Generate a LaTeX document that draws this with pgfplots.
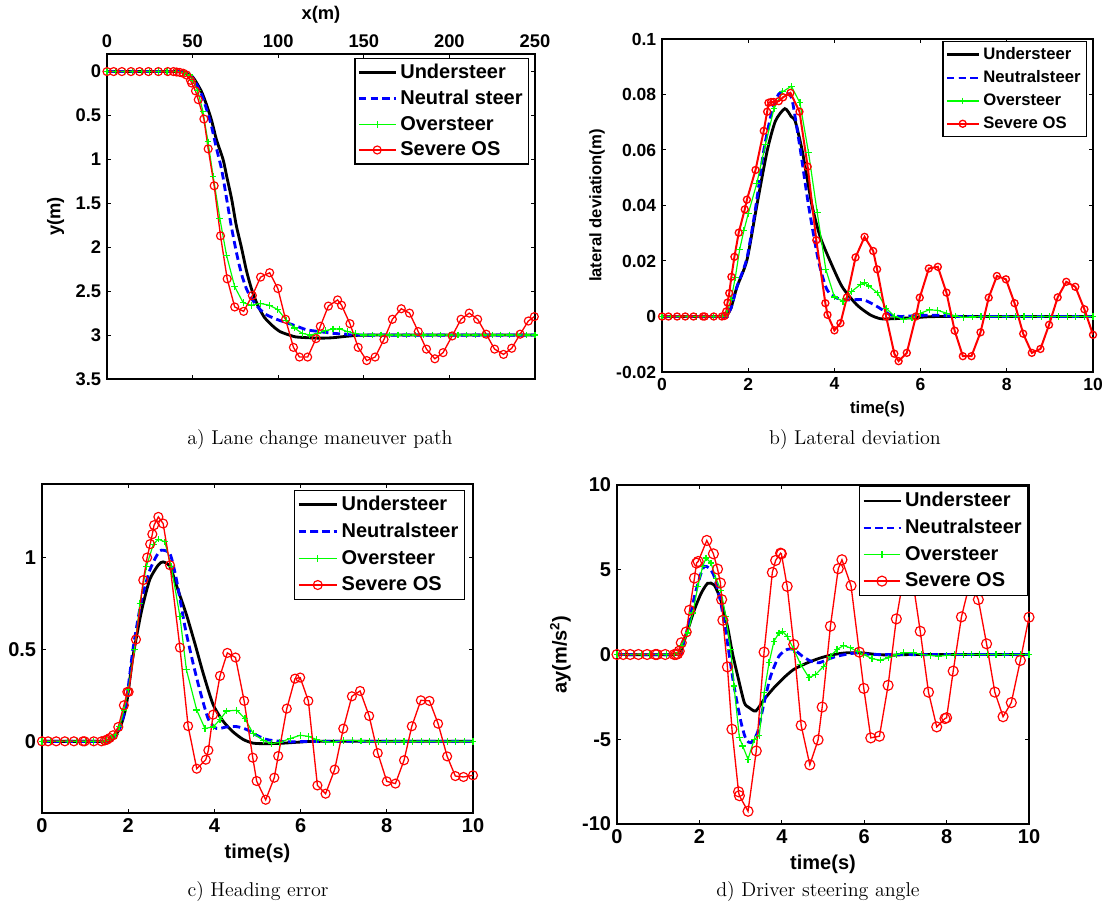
\documentclass[border=0pt]{standalone}
\usepackage{pgfplots}
\pgfplotsset{compat=1.18}
\usepackage{fontspec}
\newfontfamily\arial{Liberation Sans}
\newcommand\fa[1]{\arial\bfseries\fontsize{#1}{#1}\selectfont}
\pgfplotsset{
  mylegend/.style={legend image code/.code={\draw[mark repeat=2,mark phase=2,##1] plot coordinates {(0pt,0pt) (#1/2,0pt) (#1,0pt)};}},
  common/.style={scale only axis, axis line style={line width=0.7pt}, tick style={black,line width=0.6pt}, major tick length=2.4pt, legend cell align=left, clip=true},
}
\begin{document}
\begin{tikzpicture}
\useasboundingbox (0,0) rectangle (663pt,-544.8pt);
% ---------------- a) path
\begin{axis}[common, at={(64.2pt,-32.4pt)}, anchor=north west, width=256.8pt, height=195pt,
  xmin=0, xmax=250, ymin=-0.2, ymax=3.5, y dir=reverse,
  xtick={0,50,100,150,200,250}, xticklabels={0,50,100,150,200,250}, xticklabel pos=upper,
  ytick={0,0.5,1,1.5,2,2.5,3,3.5}, yticklabels={0,0.5,1,1.5,2,2.5,3,3.5},
  tick label style={font=\fa{11}}, label style={font=\fa{11}},
  xlabel={x(m)}, ylabel={y(m)},
  legend style={at={(0.986,0.988)}, anchor=north east, font=\fa{12}, draw=black, line width=0.7pt, inner sep=1.5pt, row sep=1.4pt},
  mylegend=22pt]
\addplot[black, line width=1.7pt, no marks, smooth, tension=0.4] coordinates {(0,0) (40,0) (45,0.01) (50,0.06) (55,0.22) (58,0.37) (61,0.55) (64,0.78) (67.8,1.0) (70,1.2) (72.8,1.45) (75.5,1.75) (78.5,2.0) (81.5,2.27) (84.5,2.48) (88,2.66) (92,2.8) (97,2.9) (101,2.96) (105,2.99) (110,3.02) (117,3.03) (125,3.035) (132,3.03) (142,3.01) (155,3.0) (250,3.0)};
\addlegendentry{Understeer}
\addplot[blue, line width=1.7pt, dash pattern=on 4.5pt off 2.5pt, no marks, smooth, tension=0.4] coordinates {(0,0) (40,0) (45,0.01) (50,0.07) (55,0.25) (58,0.42) (61,0.62) (64,0.88) (67,1.12) (69.9,1.45) (72.5,1.75) (75.5,2.05) (78.5,2.3) (81.6,2.48) (85,2.6) (89,2.7) (93.3,2.77) (99,2.82) (105,2.86) (111,2.9) (116.6,2.94) (124,2.96) (132,2.98) (140,2.99) (150,3.0) (250,3.0)};
\addlegendentry{Neutral steer}
\addplot[color=green, line width=0.7pt, mark=+, mark size=2pt, mark options={solid, color=green}] coordinates {(0,0) (5,0) (10,0) (15,0) (20,0) (25,0) (30,0) (35,0) (40,0) (45,0.01) (48,0.04) (50,0.1) (53,0.22) (56,0.45) (59,0.8) (62,1.19) (65.9,1.67) (69.8,2.09) (74.6,2.45) (79.5,2.63) (84.3,2.66) (89.6,2.64) (94.8,2.66) (99.8,2.71) (104.7,2.83) (109.5,2.92) (114,2.98) (118.5,3.0) (123,2.98) (127.5,2.95) (132,2.93) (136,2.93) (140.5,2.96) (145,2.98) (150,3.0) (155,3.0) (160,3.0) (165,3.0) (170,3.0) (175,3.0) (180,3.0) (185,3.0) (190,3.0) (195,3.0) (200,3.0) (205,3.0) (210,3.0) (215,3.0) (220,3.0) (225,3.0) (230,3.0) (235,3.0) (240,3.0) (245,3.0) (250,3.0)};
\addlegendentry{Oversteer}
\addplot[red, line width=0.8pt, mark=o, mark size=2.4pt, mark options={solid, line width=0.7pt}] coordinates {(0,0) (3.9,0) (8.7,0) (14,0) (19,0) (24.2,0) (30,0) (35.5,0) (38.8,0) (40.7,0.005) (42.6,0.01) (44.6,0.02) (46.5,0.04) (48.8,0.1) (49.4,0.13) (51.7,0.22) (53.3,0.32) (56.6,0.54) (59.1,0.88) (62.6,1.30) (66.3,1.87) (70.2,2.36) (74.6,2.68) (79.8,2.73) (84.9,2.55) (89.7,2.34) (95,2.29) (99.8,2.47) (104.3,2.82) (108.9,3.14) (112.4,3.25) (117.2,3.25) (122.1,3.04) (124.6,2.90) (129.3,2.67) (134.7,2.60) (137,2.66) (141.9,2.87) (146.7,3.14) (151.7,3.29) (156.6,3.25) (161.8,3.05) (166.7,2.82) (171.9,2.70) (176.7,2.75) (181.8,2.96) (186.6,3.16) (191.5,3.27) (196.3,3.20) (201.6,3.01) (206.8,2.82) (211.6,2.75) (216.5,2.82) (221.5,2.99) (226.4,3.16) (231.6,3.22) (236.4,3.15) (241.3,2.99) (246.1,2.84) (249.6,2.79)};
\addlegendentry{Severe OS}
\end{axis}
% ---------------- b) lateral deviation
\begin{axis}[common, at={(397.2pt,-23.4pt)}, anchor=north west, width=258.6pt, height=199.8pt,
  xmin=0, xmax=10, ymin=-0.02, ymax=0.1,
  xtick={0,2,4,6,8,10}, xticklabels={0,2,4,6,8,10},
  ytick={-0.02,0,0.02,0.04,0.06,0.08,0.1}, yticklabels={-0.02,0,0.02,0.04,0.06,0.08,0.1},
  tick label style={font=\fa{10.5}}, label style={font=\fa{10}},
  xlabel={time(s)}, ylabel={lateral deviation(m)},
  legend style={at={(0.986,0.994)}, anchor=north east, font=\fa{10}, draw=black, line width=0.7pt, inner sep=1.5pt, row sep=1.2pt},
  mylegend=19pt]
\addplot[black, line width=1.7pt, no marks, smooth, tension=0.4] coordinates {(0,0) (1.4,0) (1.5,0.0003) (1.6,0.003) (1.74,0.0107) (1.97,0.0203) (2.2,0.04) (2.44,0.0597) (2.63,0.0704) (2.85,0.0749) (3.0,0.072) (3.09,0.0704) (3.25,0.06) (3.48,0.04) (3.67,0.0287) (3.9,0.02) (4.18,0.0107) (4.52,0.0042) (4.83,0.0006) (5.07,-0.0008) (5.37,-0.0008) (5.9,-0.0004) (6.5,0) (10,0)};
\addlegendentry{Understeer}
\addplot[blue, line width=1.7pt, dash pattern=on 4.5pt off 2.5pt, no marks, smooth, tension=0.4] coordinates {(0,0) (1.4,0) (1.5,0.0003) (1.6,0.003) (1.74,0.0107) (1.97,0.021) (2.18,0.04) (2.36,0.0597) (2.55,0.074) (2.7,0.08) (2.8,0.081) (2.9,0.0805) (3.02,0.078) (3.21,0.06) (3.4,0.04) (3.63,0.02) (3.83,0.0096) (4.06,0.0066) (4.33,0.006) (4.68,0.006) (4.99,0.0036) (5.3,0.0006) (5.53,0) (6.0,0.0004) (6.5,0.0004) (7,0) (10,0)};
\addlegendentry{Neutralsteer}
\addplot[color=green, line width=0.7pt, mark=+, mark size=2pt, mark options={solid, color=green}] coordinates {(0,0) (0.2,0) (0.4,0) (0.6,0) (0.8,0) (1.0,0) (1.2,0) (1.4,0) (1.5,0.001) (1.6,0.006) (1.7,0.014) (1.8,0.024) (1.9,0.031) (2.0,0.037) (2.2,0.048) (2.4,0.062) (2.6,0.075) (2.8,0.081) (3.0,0.083) (3.2,0.077) (3.4,0.059) (3.6,0.0376) (3.8,0.017) (4.0,0.007) (4.2,0.0055) (4.4,0.009) (4.6,0.0115) (4.7,0.0122) (4.8,0.011) (5.0,0.0085) (5.2,0.003) (5.4,0.0) (5.6,-0.001) (5.8,-0.0005) (6.0,0.0012) (6.2,0.0024) (6.4,0.0022) (6.6,0.0012) (6.8,0.0002) (7.0,-0.0003) (7.2,-0.0002) (7.4,0) (7.6,0) (7.8,0) (8.0,0) (8.2,0) (8.4,0) (8.6,0) (8.8,0) (9.0,0) (9.2,0) (9.4,0) (9.6,0) (9.8,0) (10,0)};
\addlegendentry{Oversteer}
\addplot[red, line width=1.2pt, mark=o, mark size=2.1pt, mark options={solid, line width=0.8pt}] coordinates {(0,0) (0.15,0) (0.35,0) (0.54,0) (0.73,0) (0.95,0) (0.99,0) (1.2,0) (1.39,0) (1.45,0.0002) (1.49,0.0018) (1.52,0.005) (1.56,0.0084) (1.61,0.0143) (1.68,0.0215) (1.78,0.0302) (1.92,0.0386) (1.97,0.0421) (2.17,0.0528) (2.36,0.0669) (2.44,0.0738) (2.47,0.077) (2.53,0.0773) (2.59,0.0773) (2.71,0.0776) (2.81,0.079) (2.98,0.0806) (3.19,0.0738) (3.38,0.054) (3.58,0.0275) (3.79,0.0048) (3.84,0.0006) (4.0,-0.005) (4.14,-0.0024) (4.29,0.0069) (4.49,0.0213) (4.7,0.0287) (4.9,0.0236) (4.99,0.017) (5.2,0) (5.39,-0.0134) (5.49,-0.0161) (5.68,-0.0131) (5.89,0) (5.98,0.0068) (6.19,0.0173) (6.4,0.0179) (6.6,0.0086) (6.79,-0.0051) (6.98,-0.0143) (7.18,-0.0143) (7.39,-0.0057) (7.58,0.0068) (7.77,0.0146) (7.98,0.0134) (8.18,0.0048) (8.38,-0.0062) (8.58,-0.0131) (8.78,-0.0117) (8.98,-0.003) (9.18,0.0069) (9.38,0.0125) (9.59,0.0107) (9.8,0.0026) (10.0,-0.0066)};
\addlegendentry{Severe OS}
\end{axis}
% ---------------- c) heading error
\begin{axis}[common, at={(25.2pt,-290.4pt)}, anchor=north west, width=258.6pt, height=197.4pt,
  xmin=0, xmax=10, ymin=-0.39, ymax=1.4,
  xtick={0,2,4,6,8,10}, xticklabels={0,2,4,6,8,10},
  ytick={0,0.5,1}, yticklabels={0,0.5,1},
  tick label style={font=\fa{12}}, label style={font=\fa{12}},
  xlabel={time(s)},
  legend style={at={(0.981,0.982)}, anchor=north east, font=\fa{12}, draw=black, line width=0.7pt, inner sep=1.5pt, row sep=2pt},
  mylegend=23pt]
\addplot[black, line width=1.7pt, no marks, smooth, tension=0.4] coordinates {(0,0) (1.5,0) (1.6,0.01) (1.73,0.04) (1.85,0.1) (1.96,0.2) (2.11,0.46) (2.31,0.71) (2.5,0.88) (2.7,0.96) (2.81,0.976) (2.97,0.95) (3.16,0.82) (3.35,0.69) (3.55,0.53) (3.74,0.37) (3.97,0.2) (4.2,0.11) (4.44,0.05) (4.67,0.01) (4.9,-0.01) (5.21,-0.013) (5.6,-0.01) (5.99,-0.004) (6.5,0) (10,0)};
\addlegendentry{Understeer}
\addplot[blue, line width=1.7pt, dash pattern=on 4.5pt off 2.5pt, no marks, smooth, tension=0.4] coordinates {(0,0) (1.5,0) (1.6,0.01) (1.73,0.04) (1.85,0.1) (1.96,0.22) (2.11,0.5) (2.31,0.77) (2.5,0.93) (2.66,1.01) (2.77,1.04) (2.97,1.02) (3.12,0.88) (3.32,0.62) (3.51,0.42) (3.66,0.28) (3.86,0.12) (4.05,0.07) (4.28,0.078) (4.52,0.08) (4.75,0.064) (4.98,0.033) (5.21,0.01) (5.45,0.002) (5.8,-0.003) (6.5,0) (10,0)};
\addlegendentry{Neutralsteer}
\addplot[color=green, line width=0.7pt, mark=+, mark size=2pt, mark options={solid, color=green}] coordinates {(0,0) (0.2,0) (0.4,0) (0.6,0) (0.8,0) (1.0,0) (1.2,0) (1.4,0) (1.5,0.003) (1.6,0.015) (1.7,0.035) (1.8,0.08) (1.9,0.17) (2.0,0.28) (2.15,0.5) (2.27,0.75) (2.42,0.95) (2.58,1.07) (2.7,1.1) (2.85,1.085) (3.0,0.95) (3.2,0.68) (3.35,0.39) (3.59,0.17) (3.78,0.07) (3.97,0.078) (4.13,0.118) (4.28,0.165) (4.52,0.169) (4.71,0.123) (4.9,0.042) (5.14,0.005) (5.33,-0.013) (5.52,-0.005) (5.76,0.015) (5.99,0.033) (6.18,0.027) (6.37,0.01) (6.57,-0.003) (6.76,-0.005) (7.0,0.005) (7.2,0.005) (7.4,0.002) (7.6,0) (7.8,-0.002) (8.0,0) (8.2,0) (8.4,0) (8.6,0) (8.8,0) (9.0,0) (9.2,0) (9.4,0) (9.6,0) (9.8,0) (10,0)};
\addlegendentry{Oversteer}
\addplot[red, line width=0.8pt, mark=o, mark size=2.7pt, mark options={solid, line width=0.7pt}] coordinates {(0,0) (0.14,0) (0.33,0) (0.53,0) (0.74,0) (0.95,0) (0.99,0) (1.2,0) (1.38,0) (1.46,0.005) (1.51,0.009) (1.57,0.018) (1.65,0.033) (1.77,0.078) (1.9,0.196) (1.98,0.269) (2.01,0.269) (2.18,0.554) (2.35,0.877) (2.44,1.0) (2.51,1.073) (2.56,1.127) (2.6,1.176) (2.7,1.221) (2.81,1.185) (2.97,0.958) (3.2,0.51) (3.39,0.083) (3.59,-0.149) (3.8,-0.1) (3.86,-0.049) (3.97,0.145) (4.13,0.356) (4.3,0.481) (4.49,0.456) (4.69,0.22) (4.89,-0.089) (4.98,-0.216) (5.19,-0.318) (5.39,-0.198) (5.48,-0.08) (5.68,0.178) (5.87,0.341) (5.99,0.347) (6.18,0.22) (6.39,-0.24) (6.58,-0.285) (6.79,-0.154) (6.99,0.069) (7.19,0.245) (7.38,0.274) (7.59,0.138) (7.79,-0.064) (8.0,-0.218) (8.2,-0.23) (8.4,-0.103) (8.58,0.082) (8.79,0.223) (8.99,0.22) (9.19,0.096) (9.4,-0.082) (9.59,-0.189) (9.78,-0.194) (10.0,-0.185)};
\addlegendentry{Severe OS}
\end{axis}
% ---------------- d) ay
\begin{axis}[common, at={(370.2pt,-291pt)}, anchor=north west, width=247.2pt, height=203.4pt,
  xmin=0, xmax=10, ymin=-10, ymax=10,
  xtick={0,2,4,6,8,10}, xticklabels={0,2,4,6,8,10},
  ytick={-10,-5,0,5,10}, yticklabels={-10,-5,0,5,10},
  tick label style={font=\fa{12}}, label style={font=\fa{12}},
  xlabel={time(s)}, ylabel={ay(m/s\textsuperscript{2})},
  legend style={at={(0.998,0.997)}, anchor=north east, font=\fa{12}, draw=black, line width=0.7pt, inner sep=1.5pt, row sep=2pt},
  mylegend=22pt]
\addplot[black, line width=1.7pt, no marks, smooth, tension=0.4] coordinates {(0,0) (1.45,0) (1.56,0.3) (1.72,1.47) (1.88,2.65) (2.04,3.6) (2.2,4.2) (2.36,4.1) (2.52,3.2) (2.68,1.67) (2.8,0.1) (2.93,-1.27) (3.09,-2.84) (3.21,-3.14) (3.37,-3.33) (3.57,-2.65) (3.81,-1.96) (4.05,-1.37) (4.29,-0.88) (4.62,-0.49) (4.94,-0.2) (5.26,0) (5.58,0.1) (5.91,0.1) (6.31,0) (6.71,-0.04) (7.2,0) (10,0)};
\addlegendentry{Understeer}
\addplot[blue, line width=1.7pt, dash pattern=on 4.5pt off 2.5pt, no marks, smooth, tension=0.4] coordinates {(0,0) (1.45,0) (1.56,0.3) (1.72,1.6) (1.88,3.43) (2.04,4.8) (2.12,5.2) (2.24,5.1) (2.36,4.6) (2.52,3.04) (2.68,0.69) (2.84,-1.86) (3.01,-4.0) (3.13,-5.0) (3.25,-5.2) (3.41,-4.6) (3.57,-2.84) (3.73,-1.27) (3.93,-0.1) (4.13,0.3) (4.29,0.3) (4.5,-0.1) (4.7,-0.39) (4.9,-0.49) (5.1,-0.3) (5.34,-0.1) (5.66,0.05) (5.9,0.1) (6.31,0) (10,0)};
\addlegendentry{Neutralsteer}
\addplot[color=green, line width=0.7pt, mark=+, mark size=2pt, mark options={solid, color=green}] coordinates {(0,0) (0.2,0) (0.4,0) (0.6,0) (0.8,0) (1.0,0) (1.2,0) (1.4,0) (1.5,0.1) (1.56,0.5) (1.72,1.27) (1.84,2.45) (1.96,4.0) (2.08,5.2) (2.16,5.69) (2.28,5.4) (2.4,4.5) (2.52,3.8) (2.64,2.25) (2.76,0.3) (2.84,-1.86) (2.97,-4.9) (3.05,-5.4) (3.18,-6.18) (3.33,-5.0) (3.45,-4.8) (3.57,-2.25) (3.69,-0.49) (3.81,0.78) (3.93,1.27) (4.01,1.37) (4.13,1.08) (4.29,0.3) (4.46,-0.59) (4.66,-1.37) (4.82,-1.18) (5.02,-0.69) (5.18,-0.1) (5.34,0.3) (5.5,0.53) (5.66,0.39) (5.83,0.2) (5.99,0) (6.19,-0.25) (6.39,-0.33) (6.59,-0.2) (6.79,0) (6.95,0.1) (7.2,0.1) (7.4,0) (7.6,-0.05) (7.8,-0.1) (8.0,-0.05) (8.2,0) (8.4,0) (8.6,0) (8.8,0) (9.0,0) (9.2,0) (9.4,0) (9.6,0) (9.8,0) (10,0)};
\addlegendentry{Oversteer}
\addplot[red, line width=0.8pt, mark=o, mark size=3pt, mark options={solid, line width=0.7pt}] coordinates {(0,0) (0.15,0) (0.32,0) (0.52,0) (0.73,0) (0.93,0) (0.97,0) (1.17,0) (1.39,0) (1.43,0) (1.47,0.04) (1.51,0.2) (1.56,0.69) (1.68,1.33) (1.76,2.61) (1.88,4.51) (1.93,5.39) (1.97,5.49) (2.18,6.73) (2.34,5.94) (2.44,5.04) (2.51,4.22) (2.54,3.24) (2.57,2.02) (2.68,-0.73) (2.79,-4.41) (2.95,-8.1) (2.97,-8.33) (3.18,-9.25) (3.38,-5.69) (3.57,0.14) (3.77,4.84) (3.85,5.55) (3.97,5.98) (3.99,5.94) (4.13,4.02) (4.29,0.59) (4.47,-4.18) (4.68,-6.51) (4.88,-5.04) (4.98,-3.1) (5.18,1.67) (5.37,5.06) (5.46,5.59) (5.68,4.06) (5.88,0.14) (5.99,-2.0) (6.16,-4.92) (6.37,-4.82) (6.58,-1.82) (6.78,2.1) (6.98,4.9) (7.17,4.5) (7.36,1.37) (7.56,-2.22) (7.76,-4.27) (7.96,-3.78) (8.0,-3.73) (8.16,-0.98) (8.36,2.22) (8.57,4.3) (8.77,3.24) (8.97,0.63) (9.17,-2.22) (9.37,-3.67) (9.57,-2.84) (9.79,-0.35) (10.0,2.2)};
\addlegendentry{Severe OS}
\end{axis}
% captions
\node[font=\fontsize{12}{14}\selectfont] at (192pt,-264pt) {a) Lane change maneuver path};
\node[font=\fontsize{12}{14}\selectfont] at (513pt,-264pt) {b) Lateral deviation};
\node[font=\fontsize{12}{14}\selectfont] at (154.8pt,-535.2pt) {c) Heading error};
\node[font=\fontsize{12}{14}\selectfont] at (490.8pt,-535.2pt) {d) Driver steering angle};
\end{tikzpicture}
\end{document}
